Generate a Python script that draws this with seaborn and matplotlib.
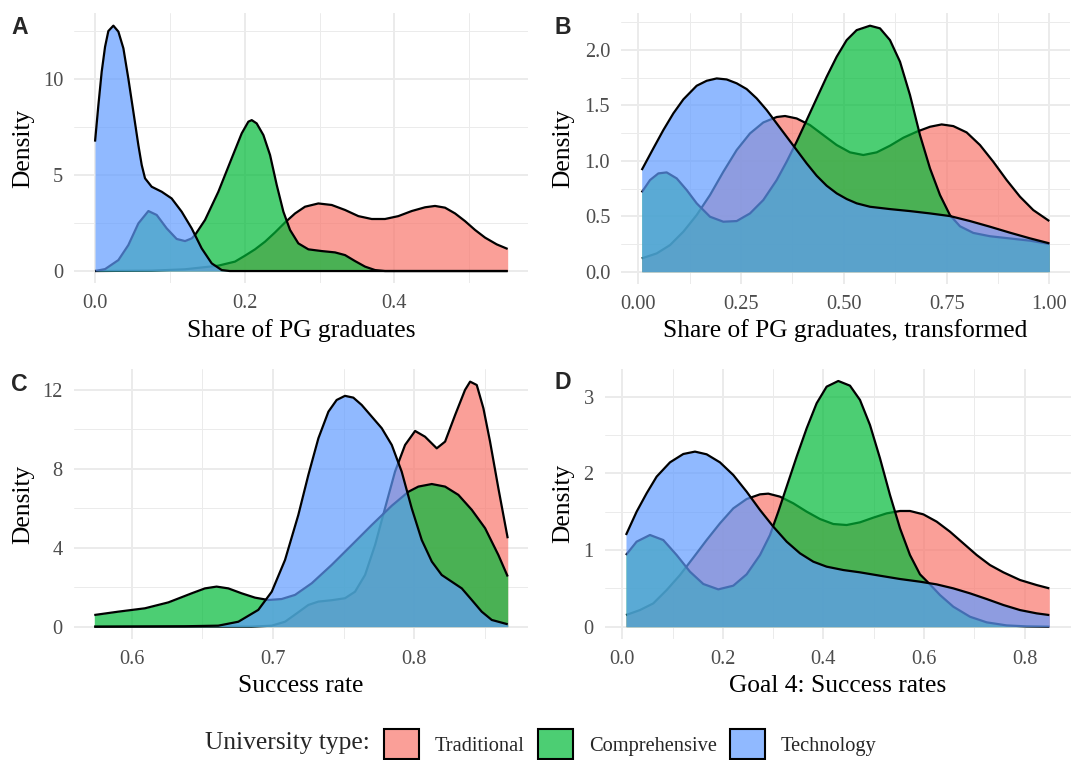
import numpy as np
import pandas as pd
import matplotlib
matplotlib.use("Agg")
import matplotlib.pyplot as plt
from matplotlib.patches import Patch
from matplotlib.colors import to_rgba
from matplotlib.ticker import MultipleLocator, FormatStrFormatter
import seaborn as sns

# ---------------------------------------------------------------------------
# Estimated density curves (x, density) per university type and panel
# ---------------------------------------------------------------------------
GROUPS = ["Traditional", "Comprehensive", "Technology"]
PALETTE = {"Traditional": "#F8766D", "Comprehensive": "#00BA38", "Technology": "#619CFF"}

# A: share of PG graduates
A_TRAD_X = [0.0, 0.0757, 0.12, 0.1648, 0.187, 0.2004, 0.2138, 0.2272, 0.2405, 0.2539,
            0.2673, 0.2806, 0.2984, 0.3163, 0.3341, 0.3519, 0.3697, 0.3875, 0.4053,
            0.4232, 0.441, 0.4543, 0.4677, 0.4811, 0.4944, 0.5078, 0.5212, 0.5367, 0.5514]
A_TRAD_Y = [0.0, 0.02, 0.09, 0.28, 0.49, 0.80, 1.13, 1.53, 2.01, 2.53,
            3.00, 3.35, 3.52, 3.44, 3.18, 2.86, 2.71, 2.71, 2.86,
            3.125, 3.32, 3.39, 3.30, 3.00, 2.60, 2.14, 1.74, 1.39, 1.15]
A_COMP_X = [0.0, 0.0134, 0.0312, 0.0445, 0.0579, 0.0713, 0.0824, 0.0958, 0.1091, 0.1203,
            0.1292, 0.1336, 0.147, 0.1648, 0.1826, 0.196, 0.2049, 0.2094, 0.216, 0.225,
            0.2339, 0.2428, 0.2517, 0.2606, 0.2717, 0.2851, 0.3029, 0.3207, 0.3341,
            0.3474, 0.3608, 0.3742, 0.3875, 0.45, 0.5514]
A_COMP_Y = [0.0, 0.10, 0.57, 1.35, 2.48, 3.125, 2.92, 2.22, 1.67, 1.56,
            1.70, 1.875, 2.66, 4.13, 5.87, 7.17, 7.78, 7.86, 7.69, 7.08,
            6.04, 4.48, 3.09, 2.14, 1.44, 1.13, 1.04, 0.97, 0.83,
            0.52, 0.23, 0.05, 0.0, 0.0, 0.0]
A_TECH_X = [0.0, 0.0045, 0.0089, 0.0134, 0.0178, 0.0245, 0.0312, 0.0379, 0.0445, 0.0512,
            0.0579, 0.0624, 0.0668, 0.0757, 0.0891, 0.1024, 0.1158, 0.1292, 0.1425,
            0.1559, 0.1693, 0.18, 0.25, 0.35, 0.45, 0.5514]
A_TECH_Y = [6.74, 8.65, 10.38, 11.68, 12.5, 12.78, 12.47, 11.6, 10.03, 8.3,
            6.56, 5.52, 4.83, 4.39, 4.13, 3.78, 3.09, 2.22, 1.18,
            0.40, 0.05, 0.0, 0.0, 0.0, 0.0, 0.0]

# B: share of PG graduates, transformed
B_TRAD_X = [0.0081, 0.0446, 0.077, 0.1095, 0.1419, 0.1744, 0.2068, 0.2393, 0.2717, 0.3041,
            0.3366, 0.3569, 0.3852, 0.4177, 0.4501, 0.4826, 0.515, 0.5474, 0.5799,
            0.6123, 0.6448, 0.6772, 0.7097, 0.738, 0.7664, 0.7988, 0.8313, 0.8637,
            0.8962, 0.9286, 0.961, 1.0]
B_TRAD_Y = [0.12, 0.165, 0.24, 0.361, 0.511, 0.692, 0.902, 1.098, 1.248, 1.347,
            1.396, 1.405, 1.383, 1.323, 1.233, 1.143, 1.077, 1.053, 1.077,
            1.137, 1.209, 1.263, 1.308, 1.329, 1.314, 1.257, 1.143, 0.992,
            0.827, 0.677, 0.556, 0.457]
B_COMP_X = [0.0081, 0.0284, 0.0487, 0.0689, 0.0933, 0.1176, 0.1419, 0.1744, 0.2068, 0.2393,
            0.2717, 0.3041, 0.3366, 0.3609, 0.3852, 0.4096, 0.4339, 0.4582, 0.4826,
            0.5069, 0.5312, 0.5637, 0.588, 0.6123, 0.6367, 0.661, 0.6853, 0.7097,
            0.734, 0.7583, 0.7826, 0.8151, 0.8556, 0.9043, 0.953, 1.0]
B_COMP_Y = [0.716, 0.827, 0.887, 0.896, 0.842, 0.737, 0.617, 0.496, 0.451, 0.457,
            0.526, 0.647, 0.827, 0.993, 1.173, 1.368, 1.564, 1.759, 1.94,
            2.09, 2.18, 2.22, 2.196, 2.09, 1.895, 1.594, 1.233, 0.932,
            0.692, 0.51, 0.41, 0.35, 0.32, 0.30, 0.28, 0.25]
B_TECH_X = [0.0081, 0.0365, 0.0608, 0.0852, 0.1095, 0.1419, 0.1663, 0.1906, 0.2149, 0.2393,
            0.2636, 0.2879, 0.3122, 0.3366, 0.3609, 0.3852, 0.4096, 0.4339, 0.4582,
            0.4826, 0.5069, 0.5312, 0.5637, 0.6123, 0.661, 0.7097, 0.7583, 0.807,
            0.8556, 0.9043, 0.953, 1.0]
B_TECH_Y = [0.917, 1.113, 1.278, 1.429, 1.555, 1.678, 1.723, 1.744, 1.735, 1.70,
            1.648, 1.564, 1.459, 1.338, 1.218, 1.098, 0.977, 0.866, 0.776,
            0.707, 0.656, 0.617, 0.586, 0.565, 0.547, 0.526, 0.502, 0.457,
            0.406, 0.352, 0.301, 0.256]

# C: success rate
C_TRAD_X = [0.5736, 0.6849, 0.6991, 0.7085, 0.7179, 0.725, 0.7321, 0.7415, 0.7509, 0.758,
            0.7651, 0.7722, 0.7792, 0.7863, 0.7934, 0.8005, 0.8075, 0.8158, 0.8217,
            0.8288, 0.8358, 0.8394, 0.8441, 0.8488, 0.8535, 0.8594, 0.866]
C_TRAD_Y = [0.0, 0.0, 0.05, 0.25, 0.73, 1.10, 1.27, 1.34, 1.44, 1.77,
            2.62, 4.14, 6.0, 7.86, 9.21, 9.92, 9.63, 9.04, 9.38,
            10.73, 12.0, 12.42, 12.25, 11.07, 9.38, 7.01, 4.48]
C_COMP_X = [0.5736, 0.5906, 0.6094, 0.626, 0.6425, 0.6519, 0.6601, 0.6684, 0.6778, 0.6873,
            0.6967, 0.7061, 0.7156, 0.7274, 0.7415, 0.7557, 0.7698, 0.784, 0.7958,
            0.8028, 0.8123, 0.8217, 0.8311, 0.8406, 0.85, 0.8594, 0.866]
C_COMP_Y = [0.59, 0.76, 0.93, 1.23, 1.69, 1.94, 2.03, 1.94, 1.69, 1.47,
            1.35, 1.40, 1.61, 2.20, 3.13, 4.14, 5.15, 6.13, 6.84,
            7.10, 7.23, 7.10, 6.68, 5.92, 4.99, 3.63, 2.54]
C_TECH_X = [0.5736, 0.6377, 0.6613, 0.6755, 0.6896, 0.6991, 0.7085, 0.7179, 0.725, 0.7321,
            0.7392, 0.745, 0.7509, 0.7568, 0.7627, 0.7698, 0.7769, 0.784, 0.791,
            0.7981, 0.8052, 0.8123, 0.8193, 0.8264, 0.8335, 0.8406, 0.8476, 0.8547, 0.866]
C_TECH_Y = [0.0, 0.02, 0.05, 0.25, 0.85, 1.77, 3.38, 5.66, 7.69, 9.55,
            10.9, 11.49, 11.7, 11.61, 11.24, 10.65, 10.06, 9.21, 7.86,
            6.0, 4.39, 3.30, 2.62, 2.28, 1.94, 1.35, 0.76, 0.34, 0.12]

# D: goal 4 success rates
D_TRAD_X = [0.0073, 0.0351, 0.0616, 0.0882, 0.1147, 0.1412, 0.1677, 0.1942, 0.2207, 0.2472,
            0.2738, 0.2903, 0.3135, 0.34, 0.3666, 0.3931, 0.4196, 0.4461, 0.4726,
            0.4991, 0.5257, 0.5522, 0.572, 0.5986, 0.6251, 0.6516, 0.6781, 0.7046,
            0.7311, 0.7577, 0.7908, 0.824, 0.8491]
D_TRAD_Y = [0.152, 0.217, 0.304, 0.478, 0.674, 0.90, 1.13, 1.348, 1.543, 1.665,
            1.726, 1.735, 1.696, 1.609, 1.50, 1.404, 1.339, 1.326, 1.361,
            1.422, 1.478, 1.509, 1.509, 1.465, 1.37, 1.239, 1.087, 0.935,
            0.804, 0.709, 0.609, 0.543, 0.50]
D_COMP_X = [0.0073, 0.0285, 0.055, 0.0815, 0.108, 0.1346, 0.1611, 0.1909, 0.2207, 0.2472,
            0.2738, 0.2937, 0.3102, 0.3268, 0.3467, 0.3666, 0.3864, 0.4063, 0.4295,
            0.4527, 0.4726, 0.4925, 0.5124, 0.5323, 0.5522, 0.572, 0.5919, 0.6118,
            0.6317, 0.6582, 0.6914, 0.7245, 0.7643, 0.804, 0.8491]
D_COMP_Y = [0.935, 1.109, 1.196, 1.13, 0.935, 0.717, 0.557, 0.487, 0.535, 0.683,
            0.935, 1.196, 1.50, 1.826, 2.217, 2.587, 2.913, 3.13, 3.204,
            3.143, 2.957, 2.63, 2.196, 1.717, 1.283, 0.935, 0.683, 0.552,
            0.413, 0.261, 0.13, 0.057, 0.017, 0.004, 0.0]
D_TECH_X = [0.0073, 0.0285, 0.0484, 0.0683, 0.0948, 0.1213, 0.1445, 0.1677, 0.1942, 0.2207,
            0.2472, 0.2738, 0.3003, 0.3268, 0.3533, 0.3798, 0.4063, 0.4395, 0.4726,
            0.5124, 0.5522, 0.5919, 0.6251, 0.6582, 0.6914, 0.7245, 0.7577, 0.7908,
            0.824, 0.8491]
D_TECH_Y = [1.196, 1.50, 1.74, 1.957, 2.143, 2.252, 2.283, 2.248, 2.143, 1.978,
            1.761, 1.522, 1.304, 1.109, 0.957, 0.848, 0.783, 0.739, 0.709,
            0.665, 0.622, 0.587, 0.552, 0.50, 0.435, 0.361, 0.283, 0.217,
            0.174, 0.152]

X_LABELS = {
    "A": "Share of PG graduates",
    "B": "Share of PG graduates, transformed",
    "C": "Success rate",
    "D": "Goal 4: Success rates",
}


def long_frame(curves):
    parts = []
    for group, (xs, ys) in zip(GROUPS, curves):
        parts.append(pd.DataFrame({"x": xs, "density": ys, "type": group}))
    return pd.concat(parts, ignore_index=True)


PANELS = {
    "A": long_frame([(A_TRAD_X, A_TRAD_Y), (A_COMP_X, A_COMP_Y), (A_TECH_X, A_TECH_Y)]),
    "B": long_frame([(B_TRAD_X, B_TRAD_Y), (B_COMP_X, B_COMP_Y), (B_TECH_X, B_TECH_Y)]),
    "C": long_frame([(C_TRAD_X, C_TRAD_Y), (C_COMP_X, C_COMP_Y), (C_TECH_X, C_TECH_Y)]),
    "D": long_frame([(D_TRAD_X, D_TRAD_Y), (D_COMP_X, D_COMP_Y), (D_TECH_X, D_TECH_Y)]),
}

# ---------------------------------------------------------------------------
# Styling
# ---------------------------------------------------------------------------
sns.set_theme(style="whitegrid")
plt.rcParams["font.family"] = ["Liberation Serif", "DejaVu Serif"]

W, H = 1075, 760
fig = plt.figure(figsize=(W / 100, H / 100), dpi=100)
fig.patch.set_facecolor("white")


def px_rect(left, top, right, bottom):
    return [left / W, 1 - bottom / H, (right - left) / W, (bottom - top) / H]


LAYOUT = {
    # panel box in pixels, axis steps, tick formats, y-title x position (px)
    "A": dict(rect=px_rect(74.4, 13.4, 528.3, 283.3), xmaj=0.2, ymaj=5,
              xfmt="%.1f", yfmt="%d", ylab_px=23, letter=(11, 33.5)),
    "B": dict(rect=px_rect(621.3, 13.4, 1069.7, 284.0), xmaj=0.25, ymaj=0.5,
              xfmt="%.2f", yfmt="%.1f", ylab_px=563, letter=(554, 33.5)),
    "C": dict(rect=px_rect(73.6, 369.4, 528.4, 638.9), xmaj=0.1, ymaj=4,
              xfmt="%.1f", yfmt="%d", ylab_px=23, letter=(11, 391)),
    "D": dict(rect=px_rect(604.8, 368.7, 1070.5, 639.0), xmaj=0.2, ymaj=1,
              xfmt="%.1f", yfmt="%d", ylab_px=563, letter=(554, 389)),
}

GRID = "#EBEBEB"
TICK_COLOR = "#4D4D4D"
TICK_SIZE = 14.7
TITLE_SIZE = 18.4

for key, df in PANELS.items():
    spec = LAYOUT[key]
    ax = fig.add_axes(spec["rect"])
    ax.set_facecolor("white")

    z = 2
    for group in GROUPS:
        sub = df[df["type"] == group]
        ax.fill_between(sub["x"].to_numpy(), 0, sub["density"].to_numpy(),
                        color=PALETTE[group], alpha=0.7, linewidth=0, zorder=z)
        sns.lineplot(data=sub, x="x", y="density", ax=ax, color="black",
                     linewidth=1.6, estimator=None, sort=False, legend=False,
                     solid_joinstyle="round", solid_capstyle="butt",
                     zorder=z + 0.5)
        z += 1

    # limits: data range with 5% padding on each side
    xmin, xmax = df["x"].min(), df["x"].max()
    ymax = df["density"].max()
    xr = xmax - xmin
    ax.set_xlim(xmin - 0.05 * xr, xmax + 0.05 * xr)
    ax.set_ylim(-0.05 * ymax, ymax * 1.05)

    ax.xaxis.set_major_locator(MultipleLocator(spec["xmaj"]))
    ax.xaxis.set_minor_locator(MultipleLocator(spec["xmaj"] / 2))
    ax.yaxis.set_major_locator(MultipleLocator(spec["ymaj"]))
    ax.yaxis.set_minor_locator(MultipleLocator(spec["ymaj"] / 2))
    ax.xaxis.set_major_formatter(FormatStrFormatter(spec["xfmt"]))
    ax.yaxis.set_major_formatter(FormatStrFormatter(spec["yfmt"]))

    ax.grid(which="major", color=GRID, linewidth=1.4)
    ax.grid(which="minor", color=GRID, linewidth=0.7)
    ax.set_axisbelow(True)
    for s in ax.spines.values():
        s.set_visible(False)
    ax.tick_params(which="both", length=0)
    ax.tick_params(axis="both", which="major", labelsize=TICK_SIZE,
                   labelcolor=TICK_COLOR, pad=8)

    ax.set_xlabel(X_LABELS[key], fontsize=TITLE_SIZE, color="black")
    ax.set_ylabel("Density", fontsize=TITLE_SIZE, color="black")
    left_px = spec["rect"][0] * W
    width_px = spec["rect"][2] * W
    height_px = spec["rect"][3] * H
    ax.yaxis.set_label_coords((spec["ylab_px"] - left_px) / width_px, 0.5)
    ax.yaxis.label.set_va("center")
    ax.xaxis.set_label_coords(0.5, -47.0 / height_px)
    ax.xaxis.label.set_va("center")

    lx, ly = spec["letter"]
    fig.text(lx / W, 1 - ly / H, key, fontsize=16.6, fontweight="bold",
             family=["Liberation Sans", "DejaVu Sans"], va="baseline", ha="left")

# Legend along the bottom
handles = [Patch(facecolor=to_rgba(PALETTE[g], 0.7), edgecolor="black", linewidth=1.5)
           for g in GROUPS]
fig.legend(handles, GROUPS, ncol=3, loc="center left",
           bbox_to_anchor=(384 / W, 1 - 744 / H), frameon=False,
           fontsize=TICK_SIZE, handlelength=1.716, handleheight=1.95,
           handletextpad=0.78, columnspacing=0.64, borderpad=0, borderaxespad=0)
fig.text(205 / W, 1 - 743 / H, "University type:", fontsize=TITLE_SIZE,
         va="center", ha="left")

fig.savefig("out.png", dpi=100, facecolor="white")
